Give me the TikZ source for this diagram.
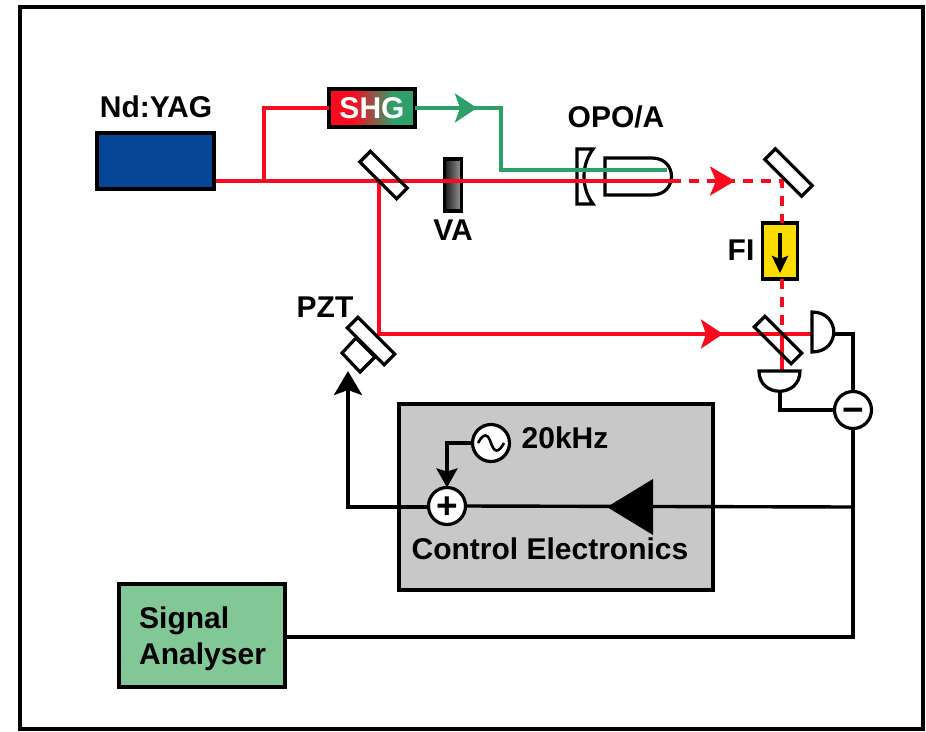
\documentclass[tikz,border=0pt]{standalone}
\usepackage{fontspec}
\setmainfont{Liberation Sans}
\usetikzlibrary{arrows.meta}
\definecolor{beamred}{RGB}{250,10,30}
\definecolor{beamgreen}{RGB}{45,160,105}
\definecolor{yagblue}{RGB}{5,70,150}
\definecolor{boxgray}{RGB}{200,200,200}
\definecolor{boxgreen}{RGB}{130,200,150}
\definecolor{fiyellow}{RGB}{250,220,0}
\pgfdeclarehorizontalshading{shgfade}{100bp}{color(0bp)=(beamred); color(39bp)=(beamred); color(62bp)=(beamgreen); color(100bp)=(beamgreen)}
\tikzset{
  wire/.style={line width=3.4pt, color=black},
  redbeam/.style={line width=3.4pt, color=beamred},
  greenbeam/.style={line width=3.4pt, color=beamgreen},
  dashbeam/.style={redbeam, dash pattern=on 10pt off 8pt},
  part/.style={draw=black, line width=3.2pt, inner sep=0pt, outer sep=0pt},
  mirror/.style={part, fill=white, minimum width=52pt, minimum height=15pt, rotate=-45},
  junction/.style={part, circle, fill=white, minimum size=37pt, text height=25pt, text depth=0pt, font=\fontsize{37}{37}\selectfont\bfseries},
  label/.style={font=\fontsize{30}{36}\selectfont\bfseries, inner sep=0pt}
}
\begin{document}
\begin{tikzpicture}[x=1pt, y=-1pt]
\useasboundingbox (0,0) rectangle (926,731);
\draw[line width=4pt] (20,7) rectangle (923,729);

\node[part, fill=boxgray, minimum width=314pt, minimum height=186pt] (electronics) at (556,497) {};
\node[label] (ctrl) at (550,549) {Control Electronics};

\node[part, fill=yagblue, minimum width=117pt, minimum height=56pt] (yag) at (155.5,161) {};
\node[label] (yagtext) at (156,107) {Nd:YAG};
\node[part, shading=shgfade, minimum width=86pt, minimum height=38pt, font=\fontsize{30}{36}\selectfont\bfseries, text=white] (shg) at (372,108) {SHG};
\node[part, left color=black!90, right color=black!40, minimum width=17pt, minimum height=52pt] (va) at (453,185) {};
\node[label] (vatext) at (453,230) {VA};
\node[label] (opotext) at (616,117) {OPO/A};
\node[part, fill=fiyellow, minimum width=35pt, minimum height=56pt] (fi) at (780,251) {};
\node[label] (fitext) at (741,250) {FI};
\node[label] (pzttext) at (325,307) {PZT};

\coordinate (yagout) at (216,181);
\coordinate (tee) at (264,181);
\coordinate (teeup) at (264,108);
\coordinate (split) at (379,181);
\coordinate (splitdown) at (379,334);
\coordinate (opoend) at (671,181);
\coordinate (redtip) at (735,181);
\coordinate (fold) at (782,181);
\coordinate (fitop) at (782,223);
\coordinate (fibot) at (782,279);
\coordinate (bstop) at (782,334);
\coordinate (bsbot) at (782,371);
\coordinate (greentip) at (477,108);
\coordinate (greenjoin) at (468,108);
\coordinate (greenbend) at (501,108);
\coordinate (greenlow) at (501,170);
\coordinate (greenend) at (667,170);
\coordinate (armtip) at (723,334);
\coordinate (detflat) at (812,334);

\draw[part, fill=white] (577,149) -- (593,149) .. controls (581,165) and (581,188) .. (593,204) -- (577,204) -- cycle;
\draw[part, fill=white] (605,158) -- (652,158) .. controls (678,158) and (678,195) .. (652,195) -- (605,195) -- cycle;

\draw[redbeam] (yagout) -- (opoend);
\draw[redbeam] (tee) -- (teeup) -- (shg.west |- teeup);
\draw[greenbeam, -{Stealth[length=22pt,width=29pt,inset=5pt]}] (shg.east |- greentip) -- (greentip);
\draw[greenbeam] (greenjoin) -- (greenbend) -- (greenlow) -- (greenend);
\draw[dashbeam] (opoend) -- (fold) -- (fitop);
\draw[redbeam, -{Stealth[length=25pt,width=29pt,inset=6pt]}] (715,181) -- (redtip);
\draw[dashbeam] (fibot) -- (bstop);
\draw[redbeam] (split) -- (splitdown) -- (detflat);
\draw[redbeam, -{Stealth[length=22pt,width=29pt,inset=5pt]}] (690,334) -- (armtip);
\draw[redbeam] (bstop) -- (bsbot);

\node[mirror, fill=none] (mirrorone) at (383.5,175) {};
\node[mirror, fill=none] (mirrortwo) at (788.5,172.5) {};
\node[mirror, fill=none] (mirrorthree) at (778,340) {};
\draw[part, fill=white] (342,353) -- (356,338) -- (375,357) -- (360,372) -- cycle;
\node[mirror] (mirrorpzt) at (371,341) {};

\draw[wire, -{Stealth[length=17pt,width=16pt,inset=3pt]}] (780,233) -- (780,273);

\draw[part, fill=white] (812,312) .. controls (841,312) and (841,352) .. (812,352) -- cycle;
\draw[part, fill=white] (759,371) .. controls (759,398) and (800,398) .. (800,371) -- cycle;
\coordinate (detright) at (834,334);
\coordinate (detlow) at (780,391);

\node[part, fill=boxgreen, minimum width=166pt, minimum height=103pt] (analyser) at (202,635.5) {};
\node[label, align=left, anchor=west] (antext) at (139,639) {Signal\\Analyser};

\node[junction] (minus) at (853,410) {−};
\node[junction] (plus) at (447,506) {+};
\node[junction] (osc) at (491,443) {};
\node[label] (oscext) at (565,438) {20kHz};
\draw[line width=2.6pt] (478,443) .. controls (484,432) and (488,434) .. (491,443) .. controls (494,452) and (498,454) .. (504,443);

\coordinate (rail) at (853,507);
\coordinate (railleft) at (348,507);
\coordinate (pzttip) at (348,371);
\coordinate (oscbend) at (447,443);
\coordinate (anbend) at (853,637);

\draw[wire] (detright) -- (853,334) -- (minus.north);
\draw[wire] (detlow) -- (780,410) -- (minus.west);
\draw[wire] (minus.south) -- (anbend) -- (analyser.east |- anbend);
\draw[wire] (rail) -- (plus.east);
\draw[wire, -{Stealth[length=24pt,width=28pt,inset=5pt]}] (plus.west |- railleft) -- (railleft) -- (pzttip);
\draw[wire, -{Stealth[length=19pt,width=21pt,inset=3pt]}] (osc.west) -- (oscbend) -- (plus.north);
\fill[black] (607,507) -- (653,479) -- (653,535) -- cycle;
\end{tikzpicture}
\end{document}
